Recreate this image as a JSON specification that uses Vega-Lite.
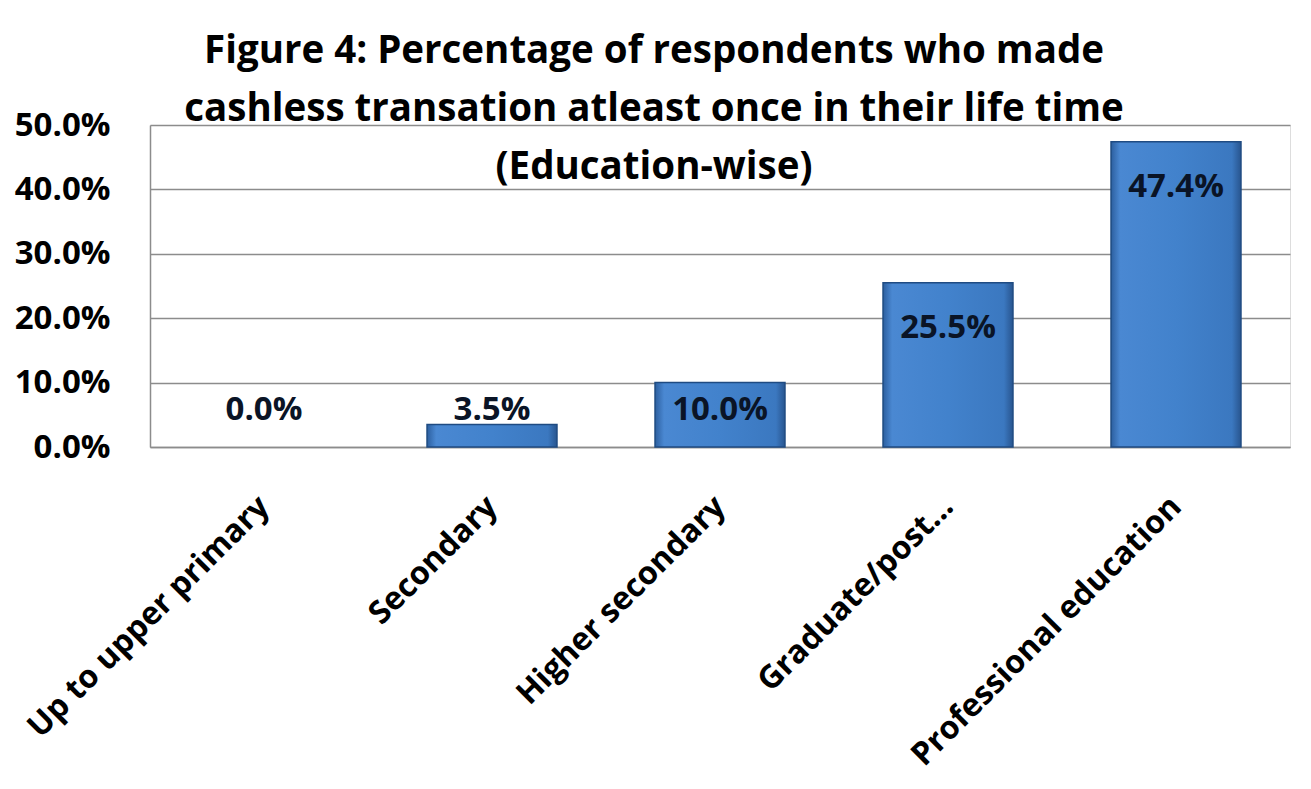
{
  "$schema": "https://vega.github.io/schema/vega-lite/v6.json",
  "width": 1140,
  "height": 322,
  "autosize": {"type": "none"},
  "padding": {"left": 150, "top": 125, "right": 21, "bottom": 342},
  "background": "white",
  "title": {
    "text": ["Figure 4: Percentage of respondents who made", "cashless transation  atleast once in their life time", "(Education-wise)"],
    "font": "Open Sans",
    "fontSize": 38.5,
    "fontWeight": "bold",
    "color": "#000000",
    "lineHeight": 58,
    "offset": -55,
    "baseline": "alphabetic",
    "anchor": "middle",
    "dx": -66,
    "dy": 53
  },
  "data": {
    "values": [
      {"education": "Up to upper primary", "pct": 0.0},
      {"education": "Secondary", "pct": 0.035},
      {"education": "Higher secondary", "pct": 0.10},
      {"education": "Graduate/post...", "pct": 0.255},
      {"education": "Professional education", "pct": 0.474}
    ]
  },
  "encoding": {
    "x": {
      "field": "education",
      "type": "nominal",
      "sort": ["Up to upper primary", "Secondary", "Higher secondary", "Graduate/post...", "Professional education"],
      "scale": {"paddingInner": 0.43, "paddingOuter": 0.215},
      "axis": {
        "title": null,
        "labelAngle": -45,
        "labelAlign": "right",
        "labelBaseline": "middle",
        "labelFont": "Open Sans",
        "labelFontSize": 32,
        "labelFontWeight": "bold",
        "labelColor": "#000000",
        "labelPadding": 54,
        "labelLimit": 0,
        "ticks": false,
        "domainColor": "#8c8c8c",
        "domainWidth": 1.5
      }
    }
  },
  "layer": [
    {
      "transform": [{"filter": "datum.pct > 0"}],
      "mark": {
        "type": "bar",
        "color": {
          "gradient": "linear",
          "x1": 0, "y1": 0, "x2": 1, "y2": 0,
          "stops": [
            {"offset": 0, "color": "#2c5f9f"},
            {"offset": 0.07, "color": "#4a88d2"},
            {"offset": 0.5, "color": "#4282cc"},
            {"offset": 0.93, "color": "#3b78c0"},
            {"offset": 1, "color": "#28558f"}
          ]
        },
        "stroke": "#1f4b82",
        "strokeWidth": 1.5
      },
      "encoding": {
        "y": {
          "field": "pct",
          "type": "quantitative",
          "scale": {"domain": [0, 0.5], "nice": false},
          "axis": {
            "title": null,
            "values": [0, 0.1, 0.2, 0.3, 0.4, 0.5],
            "format": ".1%",
            "labelFont": "Open Sans",
            "labelFontSize": 33,
            "labelFontWeight": "bold",
            "labelColor": "#000000",
            "labelPadding": 40,
            "ticks": false,
            "grid": true,
            "gridColor": "#8c8c8c",
            "gridWidth": 1.5,
            "domainColor": "#8c8c8c",
            "domainWidth": 1.5
          }
        }
      }
    },
    {
      "transform": [{"filter": "datum.pct >= 0.2"}],
      "mark": {"type": "text", "font": "Open Sans", "fontSize": 33, "fontWeight": "bold", "color": "#0a1426", "baseline": "middle", "dy": 45},
      "encoding": {
        "y": {"field": "pct", "type": "quantitative"},
        "text": {"field": "pct", "type": "quantitative", "format": ".1%"}
      }
    },
    {
      "transform": [{"filter": "datum.pct < 0.2"}],
      "mark": {"type": "text", "font": "Open Sans", "fontSize": 33, "fontWeight": "bold", "color": "#0a1426", "baseline": "middle"},
      "encoding": {
        "y": {"datum": 0.058},
        "text": {"field": "pct", "type": "quantitative", "format": ".1%"}
      }
    }
  ]
}
